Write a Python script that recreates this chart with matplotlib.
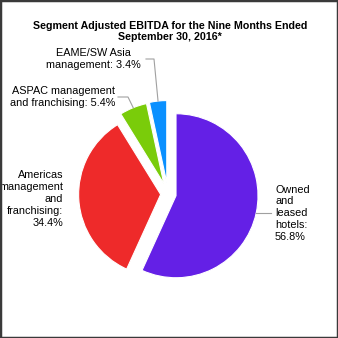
import matplotlib.pyplot as plt
from matplotlib.patches import Rectangle
import numpy as np

plt.rcParams['font.family'] = ['Liberation Sans', 'DejaVu Sans']

title = "Segment Adjusted EBITDA for the Nine Months Ended\nSeptember 30, 2016*"
segments = ["Owned\nand\nleased\nhotels:",
            "Americas\nmanagement\nand\nfranchising:",
            "ASPAC management\nand franchising:",
            "EAME/SW Asia\nmanagement:"]
shares = [56.8, 34.4, 5.4, 3.4]
colors = ["#6420E6", "#EE2A2A", "#7ACC0A", "#0A90FF"]
explode = [0.1, 0.09, 0.135, 0.14]

W = H = 338
fig = plt.figure(figsize=(W / 100, H / 100), dpi=100)
ax = fig.add_axes([0, 0, 1, 1])

# work in pixel units, y measured from the bottom
cx, cy, r = 168, H - 194, 82
wedges, _ = ax.pie(shares, colors=colors, explode=[e * r for e in explode],
                   startangle=90, counterclock=False, center=(cx, cy), radius=r,
                   wedgeprops=dict(edgecolor="white", linewidth=0.8))
ax.set_xlim(0, W)
ax.set_ylim(0, H)
ax.set_aspect("auto")
ax.axis("off")


def arc_point(w):
    mid = np.deg2rad((w.theta1 + w.theta2) / 2)
    return w.center[0] + w.r * np.cos(mid), w.center[1] + w.r * np.sin(mid)


labels = [f"{s} {v}%" if i >= 2 else f"{s}\n{v}%" for i, (s, v) in enumerate(zip(segments, shares))]
lead = dict(color="#A0A0A0", lw=0.8)
fs = 7.8

# Owned and leased hotels
x0, y0 = arc_point(wedges[0])
ax.plot([x0, 271], [y0, y0], **lead)
ax.text(275, y0, labels[0], ha="left", va="center", fontsize=fs, linespacing=1.22)

# Americas
ax.text(63, H - 199, labels[1], ha="right", va="center", fontsize=fs,
        linespacing=1.22, multialignment="right")

# ASPAC
x2, y2 = arc_point(wedges[2])
ax.plot([x2, 128, 118], [y2, H - 97, H - 97], **lead)
ax.text(115, H - 97, labels[2], ha="right", va="center", fontsize=fs,
        linespacing=1.22, multialignment="right")

# EAME/SW Asia
x3, y3 = arc_point(wedges[3])
ax.plot([x3, 154, 146], [y3, H - 59, H - 59], **lead)
ax.text(141, H - 59, labels[3], ha="right", va="center", fontsize=fs,
        linespacing=1.22, multialignment="center")

fig.text(170 / W, 1 - 31.5 / H, title, ha="center", va="center",
         fontsize=7.7, fontweight="bold", linespacing=1.2)

fig.patches.append(Rectangle((0, 0), 1, 1, transform=fig.transFigure,
                             fill=False, edgecolor="#3A3A3A", linewidth=2.5))

fig.savefig("out.png", dpi=100)
